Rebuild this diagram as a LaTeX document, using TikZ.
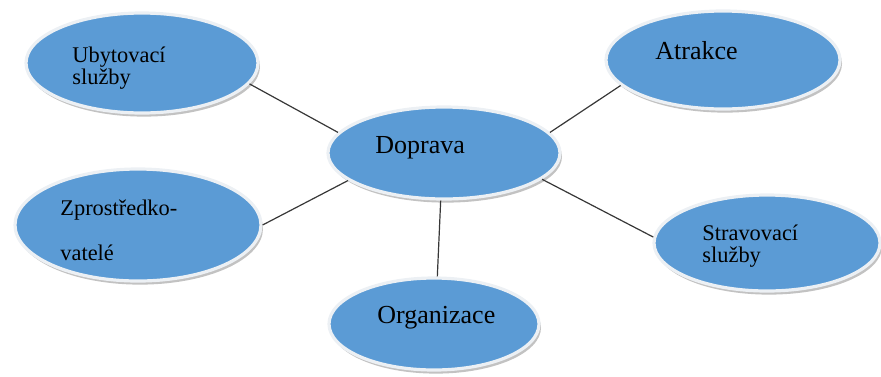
\documentclass[tikz,border=0pt]{standalone}
\usepackage{fontspec}
\setmainfont{Liberation Serif}
\newfontfamily\ovalfont{Liberation Serif}
\usetikzlibrary{shapes.geometric,shadows}

\definecolor{ovalblue}{RGB}{91,155,213}
\definecolor{ovalrim}{RGB}{236,240,244}
\definecolor{linkgray}{RGB}{55,55,55}

\tikzset{
  oval/.style={ellipse, draw=ovalrim, line width=1.6pt, fill=ovalblue, inner sep=0pt,
    drop shadow={shadow xshift=1pt, shadow yshift=-1.8pt, opacity=0.4, fill=black!60}},
  bigtext/.style={anchor=base west, inner sep=0pt, font=\ovalfont\fontsize{13}{15}\selectfont},
  smalltext/.style={anchor=base west, inner sep=0pt, align=left, font=\ovalfont\fontsize{11.2}{11}\selectfont},
  link/.style={draw=linkgray, line width=0.6pt}
}

\begin{document}
\begin{tikzpicture}[x=0.5pt, y=-0.5pt]
      \useasboundingbox (0,0) rectangle (881,376);

      % Define the ovals
      \node[oval, minimum width=116pt, minimum height=50pt] (uby) at (142,63) {};
      \node[oval, minimum width=117pt, minimum height=49pt] (atr) at (723,60) {};
      \node[oval, minimum width=116pt, minimum height=46pt] (dop) at (444,153) {};
      \node[oval, minimum width=123pt, minimum height=56pt] (zpr) at (138,225) {};
      \node[oval, minimum width=113pt, minimum height=48pt] (str) at (767,243) {};
      \node[oval, minimum width=105pt, minimum height=46pt] (org) at (434,324) {};

      % Texts inside the ovals (base = last line)
      \node[smalltext] (ubyText) at (72,84) {Ubytovací\\služby};
      \node[bigtext] (atrText) at (655,59) {Atrakce};
      \node[bigtext] (dopText) at (375,153) {Doprava};
      \node[smalltext] (zprText) at (60,260) {Zprostředko-\\[11.5pt]vatelé};
      \node[smalltext] (strText) at (702,262) {Stravovací\\služby};
      \node[bigtext] (orgText) at (377,323) {Organizace};

      % Draw the links to the centre oval
      \draw[link] (uby.-11) -- (dop.169);
      \draw[link] (atr.-166) -- (dop.11);
      \draw[link] (zpr.0) -- (dop.196);
      \draw[link] (str.177) -- (dop.-15);
      \draw[link] (org.86) -- (dop.-94);
\end{tikzpicture}
\end{document}
